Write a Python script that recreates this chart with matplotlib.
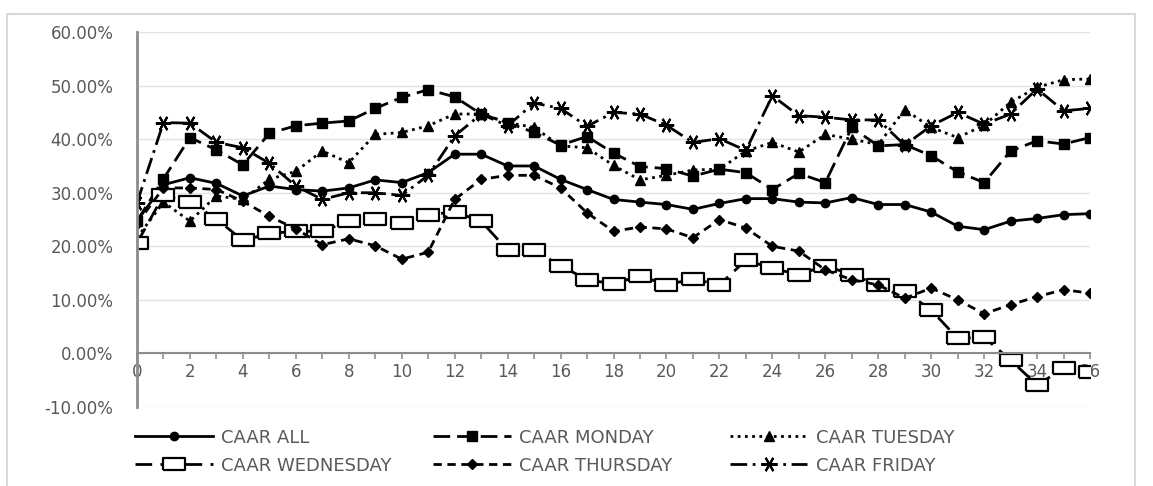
import matplotlib
matplotlib.use('Agg')
import matplotlib.pyplot as plt
from matplotlib.patches import Rectangle
from matplotlib.ticker import FuncFormatter, MultipleLocator

days = list(range(37))

caar_all = [24.7, 31.5, 32.8, 31.75, 29.4, 31.25, 30.6, 30.3, 30.9, 32.4, 31.9, 33.75,
            37.2, 37.2, 35.0, 35.0, 32.5, 30.6, 28.75, 28.25, 27.8, 26.9, 28.0, 28.9,
            28.9, 28.25, 28.1, 29.1, 27.8, 27.8, 26.4, 23.75, 23.1, 24.7, 25.2, 25.9, 26.1]
caar_monday = [24.7, 32.6, 40.3, 38.0, 35.2, 41.1, 42.5, 43.0, 43.4, 45.75, 47.8, 49.25,
               47.9, 44.7, 43.1, 41.25, 38.9, 40.5, 37.4, 34.9, 34.5, 33.1, 34.4, 33.75,
               30.6, 33.6, 31.9, 42.2, 38.75, 39.0, 36.9, 33.9, 31.9, 37.8, 39.7, 39.1, 40.3]
caar_tuesday = [21.6, 28.25, 24.7, 29.4, 28.75, 32.5, 34.0, 37.8, 35.6, 40.9, 41.25, 42.5,
                44.7, 44.7, 43.1, 42.2, 38.75, 38.4, 35.1, 32.4, 33.25, 34.25, 34.4, 37.8,
                39.4, 37.6, 40.9, 40.0, 39.0, 45.5, 42.2, 40.3, 42.6, 46.9, 49.7, 51.1, 51.25]
caar_wednesday = [20.6, 29.5, 28.25, 25.1, 21.1, 22.4, 22.8, 22.8, 24.7, 25.1, 24.4, 25.9,
                  26.4, 24.7, 19.25, 19.25, 16.4, 13.75, 13.0, 14.5, 12.8, 13.9, 12.8, 17.4,
                  15.9, 14.7, 16.4, 14.7, 12.8, 11.6, 8.1, 2.8, 3.0, -1.25, -5.9, -2.8, -3.4]
caar_thursday = [24.25, 30.9, 30.9, 30.6, 28.4, 25.6, 23.25, 20.3, 21.4, 20.1, 17.6, 18.9,
                 28.75, 32.5, 33.25, 33.25, 30.9, 26.25, 22.8, 23.6, 23.25, 21.6, 25.0, 23.4,
                 20.0, 19.1, 15.6, 13.75, 12.8, 10.3, 12.2, 10.0, 7.4, 9.1, 10.6, 11.9, 11.25]
caar_friday = [28.1, 43.1, 43.0, 39.4, 38.4, 35.5, 31.25, 28.75, 30.0, 30.0, 29.5, 33.25,
               40.6, 44.7, 42.5, 46.75, 45.75, 42.4, 45.0, 44.7, 42.6, 39.4, 40.1, 37.9,
               48.1, 44.4, 44.1, 43.6, 43.6, 38.9, 42.5, 45.0, 42.8, 44.7, 49.4, 45.3, 45.75]

grey_txt = '#595959'
box = [(-1, -0.55), (1, -0.55), (1, 0.55), (-1, 0.55), (-1, -0.55)]

fig = plt.figure(figsize=(11.53, 4.86), dpi=100)
fig.patches.append(Rectangle((0.006, -0.02), 0.978, 0.991, transform=fig.transFigure,
                             fill=False, edgecolor='#d9d9d9', linewidth=1.5))
ax = fig.add_axes([0.1188, 0.1626, 0.8266, 0.7714])

lw = 2
l_all, = ax.plot(days, caar_all, color='black', lw=lw, marker='o', ms=6,
                 label='CAAR ALL')
l_mon, = ax.plot(days, caar_monday, color='black', lw=lw, dashes=(6, 2.5), marker='s',
                 ms=6.5, label='CAAR MONDAY')
l_tue, = ax.plot(days, caar_tuesday, color='black', lw=lw, dashes=(1, 1.6), marker='^',
                 ms=7.5, label='CAAR TUESDAY')
l_wed, = ax.plot(days, caar_wednesday, color='black', lw=lw, dashes=(6, 3), marker=box,
                 ms=16, mfc='white', mec='black', mew=1.6, label='CAAR WEDNESDAY')
l_thu, = ax.plot(days, caar_thursday, color='black', lw=lw, dashes=(3, 2), marker='D',
                 ms=5.5, label='CAAR THURSDAY')
l_fri, = ax.plot(days, caar_friday, color='black', lw=lw, dashes=(6, 2, 1, 2),
                 marker=(6, 2, 90), ms=11, mew=1.5, label='CAAR FRIDAY')

ax.set_xlim(0, 36)
ax.set_ylim(-10, 60)
ax.yaxis.set_major_locator(MultipleLocator(10))
ax.yaxis.set_major_formatter(FuncFormatter(lambda v, p: f'{v:.2f}%'))
ax.xaxis.set_major_locator(MultipleLocator(2))
ax.xaxis.set_minor_locator(MultipleLocator(1))
ax.grid(axis='y', color='#e3e3e3', linewidth=1)
ax.set_axisbelow(True)

for s in ['top', 'right']:
    ax.spines[s].set_visible(False)
ax.spines['bottom'].set_position(('data', 0))
ax.spines['bottom'].set_color('#8c8c8c')
ax.spines['bottom'].set_linewidth(1.5)
ax.spines['left'].set_color('#8c8c8c')
ax.spines['left'].set_linewidth(2)

ax.tick_params(axis='y', length=0, pad=17, labelsize=12, labelcolor=grey_txt)
ax.tick_params(axis='x', which='both', direction='out', length=4, width=1.2,
               color='#8c8c8c', labelsize=12, labelcolor=grey_txt, pad=3)
ax.patch.set_visible(False)

# legend as three columns of two rows
cols = [([l_all, l_wed], 0.117), ([l_mon, l_thu], 0.3755), ([l_tue, l_fri], 0.633)]
for handles, xpos in cols:
    lg = fig.legend(handles=handles, loc='upper left', bbox_to_anchor=(xpos, 0.118),
                    frameon=False, fontsize=13, handlelength=4.3, handletextpad=0.45,
                    labelspacing=0.55, borderpad=0, borderaxespad=0)
    for t in lg.get_texts():
        t.set_color(grey_txt)

fig.savefig('out.png', dpi=100)
